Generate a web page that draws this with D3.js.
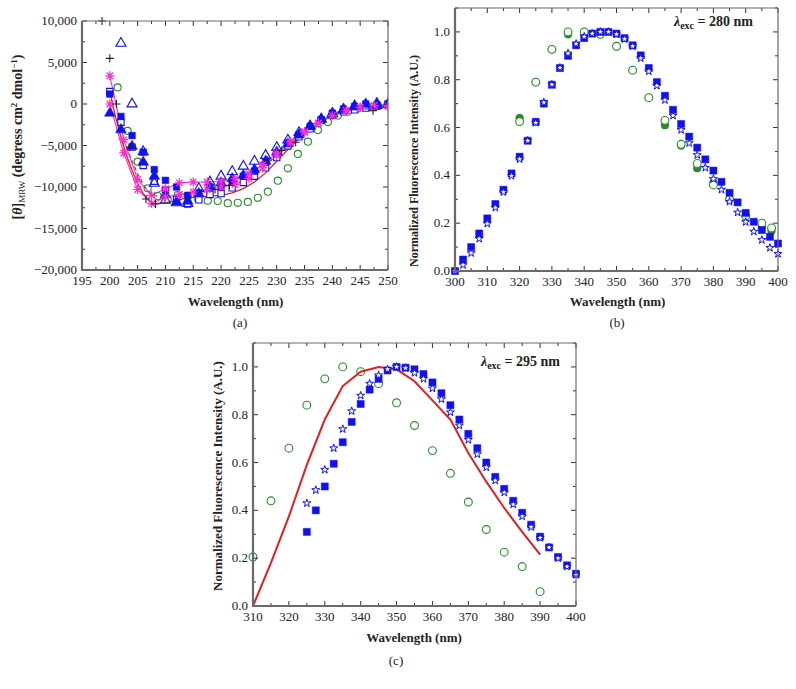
<!DOCTYPE html>
<html><head><meta charset="utf-8">
<script src="https://cdn.jsdelivr.net/npm/d3@7"></script>
<style>body{margin:0;background:#fff}svg{display:block}</style>
</head><body>
<script>
// ---------- Panel (a) data: CD spectra ----------
const aWl = [200,202,204,206,208,210,212,214,216,218,220,222,224,226,228,230,232,234,236,238,240,242,244,246,248,250];
const aFilledTri = [-1100,-3100,-5100,-7000,-8700,-10900,-11800,-11700,-10800,-10000,-9500,-9000,-8600,-7900,-6900,-5800,-4800,-3700,-2700,-1800,-1100,-600,-200,0,100,0];
const aOpenTriWl = [202,204,206,208,210,212,214,216,218,220,222,224,226,228,230,232,234,236,238,240,242,244,246,248,250];
const aOpenTri = [7300,0,-5750,-9550,-11600,-11900,-12000,-10200,-9400,-8700,-8150,-7500,-6900,-6200,-5250,-4350,-3450,-2650,-1850,-1200,-750,-350,-250,-200,-50];
const aFilledSq = [1200,-1500,-3800,-5800,-7900,-9200,-10000,-11000,-10700,-10000,-9900,-9300,-8700,-8100,-7000,-5900,-4700,-3700,-2700,-1900,-1100,-600,-300,0,-100,0];
const aOpenSq = [1500,-2200,-5200,-7400,-9300,-10400,-11500,-12050,-11550,-10900,-10800,-10100,-9450,-8700,-7700,-6450,-5050,-3950,-3000,-1950,-1350,-950,-700,-500,-250,-50];
const aCircWl = [201.4,203.2,205,206.8,208.6,210.4,212.2,214,215.8,217.6,219.4,221.2,223,224.8,226.6,228.4,230.2,232,233.8,235.6,237.4,239.2,241,242.8,244.6,246.4,248.2,250];
const aCirc = [2000,-3250,-6950,-10150,-11100,-11500,-10950,-11200,-11400,-11650,-11700,-11950,-11900,-11800,-11300,-10570,-9240,-7750,-6020,-4540,-3130,-2170,-1400,-930,-550,-350,-250,-150];
const aStarWl = [200,202.5,205,207.5,210,212.5,215,217.5,220,222.5,225,227.5,230,232.5,235,237.5,240,242.5,245,247.5,250];
const aMagA = [3400,-4300,-9100,-11000,-10200,-9500,-9400,-9400,-9300,-9000,-8400,-7300,-5900,-4500,-3300,-2300,-1400,-800,-400,-200,-200];
const aMagB = [0,-5900,-10300,-12000,-11200,-10900,-10600,-10300,-10000,-9700,-9000,-7700,-6200,-4700,-3400,-2300,-1400,-800,-400,-200,-300];
const aRedWl = [200,201,202,203,204,205,206,207,208,210,212,214,216,218,220,222,224,226,228,230,232,234,236,238,240,242,244,246,248,250];
const aRed = [1500,-1500,-4000,-6200,-8000,-9600,-10800,-11600,-12000,-11900,-11600,-11300,-11200,-11100,-11000,-10700,-10200,-9400,-8300,-6900,-5500,-4200,-3000,-2000,-1300,-800,-500,-300,-200,-100];
const aRedDashWl = [203,204,205,206,207,208,209];
const aRedDash = [-5200,-6900,-8400,-9700,-10600,-11000,-11200];
const aPlusWl = [198.6,200,201.2,203.6,206.5,208.2,218.9,221.5,228.4,230.9,233.4,247.3];
const aPlus = [10000,5500,0,-5200,-11450,-12050,-10300,-9800,-6750,-5600,-4600,-800];
const aXTicks = [195,200,205,210,215,220,225,230,235,240,245,250];
const aYTicks = [-20000,-15000,-10000,-5000,0,5000,10000];

// ---------- Panel (b) data: fluorescence, excitation 280 nm ----------
const bWl = [300,302.5,305,307.5,310,312.5,315,317.5,320,322.5,325,327.5,330,332.5,335,337.5,340,342.5,345,347.5,350,352.5,355,357.5,360,362.5,365,367.5,370,372.5,375,377.5,380,382.5,385,387.5,390,392.5,395,397.5,400];
const bSquares = [0,0.048,0.10,0.157,0.22,0.28,0.34,0.408,0.478,0.545,0.624,0.70,0.779,0.849,0.90,0.944,0.974,0.993,1.0,1.0,0.993,0.974,0.944,0.902,0.849,0.79,0.733,0.674,0.615,0.562,0.516,0.467,0.42,0.373,0.327,0.287,0.243,0.206,0.171,0.143,0.115];
const bStars = [0,0.025,0.075,0.135,0.198,0.265,0.33,0.398,0.468,0.545,0.62,0.705,0.78,0.85,0.91,0.95,0.98,0.993,1.0,1.0,0.99,0.97,0.94,0.89,0.835,0.775,0.715,0.65,0.59,0.535,0.485,0.432,0.385,0.34,0.29,0.245,0.205,0.165,0.13,0.097,0.072];
const bCircWl = [320,325,330,335,340,345,350,355,360,365,370,375,380,385,390,395,398];
const bOpenCirc = [0.625,0.79,0.927,1.0,1.0,0.99,0.94,0.84,0.725,0.63,0.53,0.45,0.36,0.30,0.23,0.20,0.18];
const bFillCirc = [0.64,0.79,0.927,0.99,1.0,0.99,0.94,0.84,0.725,0.61,0.525,0.43,0.37,0.30,0.23,0.185,0.168];
const bXTicks = [300,310,320,330,340,350,360,370,380,390,400];
const bYTicks = [0,0.2,0.4,0.6,0.8,1.0];

// ---------- Panel (c) data: fluorescence, excitation 295 nm ----------
const cWl = [325,327.5,330,332.5,335,337.5,340,342.5,345,347.5,350,352.5,355,357.5,360,362.5,365,367.5,370,372.5,375,377.5,380,382.5,385,387.5,390,392.5,395,397.5,400];
const cSquares = [0.31,0.40,0.50,0.595,0.685,0.77,0.845,0.905,0.95,0.985,1.0,0.997,0.99,0.97,0.935,0.89,0.84,0.78,0.72,0.66,0.60,0.54,0.49,0.44,0.39,0.34,0.29,0.245,0.205,0.17,0.135];
const cStars = [0.43,0.485,0.57,0.66,0.74,0.815,0.88,0.93,0.965,0.99,1.0,0.995,0.975,0.95,0.91,0.865,0.81,0.755,0.695,0.635,0.58,0.525,0.475,0.425,0.375,0.33,0.285,0.245,0.20,0.165,0.13];
const cCircWl = [310,315,320,325,330,335,340,345,350,355,360,365,370,375,380,385,390];
const cCirc = [0.205,0.44,0.66,0.84,0.95,1.0,0.98,0.93,0.85,0.755,0.65,0.555,0.435,0.32,0.225,0.165,0.06];
const cRed = [0,0.18,0.375,0.59,0.78,0.92,0.98,1.0,0.99,0.94,0.86,0.78,0.64,0.52,0.41,0.31,0.215];
const cXTicks = [310,320,330,340,350,360,370,380,390,400];
const cYTicks = [0,0.2,0.4,0.6,0.8,1.0];

const BLUE = "#1010f0", GREEN = "#2a8a2a", MAG = "#ff2ad4", RED = "#e02020", FRAME = "#6a6a6a";
const FONT = "'Liberation Serif', 'DejaVu Serif', serif";

const svg = d3.select("body").append("svg").attr("width",796).attr("height",689)
  .attr("font-family",FONT).style("font-family",FONT);

function frame(g, x, y, xMajor, xMinorStep, yMajor, yMinorStep, xFmt, yFmt, fs, yLabelGap){
  const [x0,x1] = x.range(), [y0,y1] = y.range();
  const xd = x.domain(), yd = y.domain();
  const xMinor = d3.range(xd[0], xd[1]+1e-9, xMinorStep);
  const yMinor = d3.range(yd[0], yd[1]+1e-9, yMinorStep);
  const tk = g.append("g").attr("stroke","#333").attr("stroke-width",1);
  xMinor.forEach(v=>{
    const big = xMajor.some(m=>Math.abs(m-v)<1e-6);
    const L = big?5:3;
    tk.append("line").attr("x1",x(v)).attr("x2",x(v)).attr("y1",y0).attr("y2",y0-L);
    tk.append("line").attr("x1",x(v)).attr("x2",x(v)).attr("y1",y1).attr("y2",y1+L);
  });
  yMinor.forEach(v=>{
    const big = yMajor.some(m=>Math.abs(m-v)<1e-6);
    const L = big?5:3;
    tk.append("line").attr("y1",y(v)).attr("y2",y(v)).attr("x1",x0).attr("x2",x0+L);
    tk.append("line").attr("y1",y(v)).attr("y2",y(v)).attr("x1",x1).attr("x2",x1-L);
  });
  g.append("line").attr("x1",x0).attr("x2",x1).attr("y1",y1).attr("y2",y1).attr("stroke",FRAME).attr("stroke-width",1.2);
  g.append("line").attr("x1",x1).attr("x2",x1).attr("y1",y0).attr("y2",y1).attr("stroke",FRAME).attr("stroke-width",1.2);
  g.append("line").attr("x1",x0-1).attr("x2",x1).attr("y1",y0).attr("y2",y0).attr("stroke",FRAME).attr("stroke-width",2.2);
  g.append("line").attr("x1",x0).attr("x2",x0).attr("y1",y0+1).attr("y2",y1).attr("stroke",FRAME).attr("stroke-width",2.2);
  xMajor.forEach(v=>g.append("text").attr("x",x(v)).attr("y",y0+15).attr("text-anchor","middle").attr("font-size",fs).attr("fill","#222").text(xFmt(v)));
  yMajor.forEach(v=>g.append("text").attr("x",x0-yLabelGap).attr("y",y(v)+4).attr("text-anchor","end").attr("font-size",fs).attr("fill","#222").text(yFmt(v)));
}

function plus(g, x, y, xs, ys, color, s){
  xs.forEach((w,i)=>{
    const cx=x(w), cy=y(ys[i]);
    g.append("path").attr("d",`M${cx-s},${cy}H${cx+s}M${cx},${cy-s}V${cy+s}`).attr("stroke",color).attr("stroke-width",1.1).attr("fill","none");
  });
}
function asterisk(g, x, y, xs, ys, color, s){
  xs.forEach((w,i)=>{
    const cx=x(w), cy=y(ys[i]); const d=s*0.72;
    g.append("path").attr("d",`M${cx-s},${cy}H${cx+s}M${cx},${cy-s}V${cy+s}M${cx-d},${cy-d}L${cx+d},${cy+d}M${cx-d},${cy+d}L${cx+d},${cy-d}`).attr("stroke",color).attr("stroke-width",1.2).attr("fill","none");
  });
}
function sym(g, x, y, xs, ys, type, size, fill, stroke, sw){
  const p = d3.symbol().type(type).size(size)();
  g.selectAll(null).data(xs).enter().append("path").attr("d",p)
    .attr("transform",(w,i)=>`translate(${x(w)},${y(ys[i])})`)
    .attr("fill",fill).attr("stroke",stroke).attr("stroke-width",sw);
}
function line(g, x, y, xs, ys, color, w, dash){
  const l = d3.line().x((d,i)=>x(xs[i])).y(d=>y(d));
  const p = g.append("path").attr("d",l(ys)).attr("fill","none").attr("stroke",color).attr("stroke-width",w);
  if(dash) p.attr("stroke-dasharray",dash);
}
const fmtA = d=> d===0?"0":d3.format(",")(d).replace("-","\u2212");
const fmt1 = d3.format(".1f");

// ============ Panel (a) ============
{
  const x = d3.scaleLinear().domain([195,250]).range([82,388]);
  const y = d3.scaleLinear().domain([-20000,10000]).range([270,21]);
  const g = svg.append("g");
  g.append("clipPath").attr("id","ca").append("rect").attr("x",82).attr("y",14).attr("width",306).attr("height",256);
  const d = g.append("g").attr("clip-path","url(#ca)");
  line(d,x,y,aRedWl,aRed,RED,1.3);
  line(d,x,y,aRedDashWl,aRedDash,RED,1.2,"4,3");
  line(d,x,y,aStarWl,aMagA,MAG,1.1);
  line(d,x,y,aStarWl,aMagB,MAG,1.1);
  sym(d,x,y,aCircWl,aCirc,d3.symbolCircle,40,"none",GREEN,1.1);
  sym(d,x,y,aWl,aOpenSq,d3.symbolSquare,40,"#fff",BLUE,1.1);
  sym(d,x,y,aWl,aFilledSq,d3.symbolSquare,44,BLUE,BLUE,0.5);
  sym(d,x,y,aOpenTriWl,aOpenTri,d3.symbolTriangle,44,"none",BLUE,1.1);
  sym(d,x,y,aWl,aFilledTri,d3.symbolTriangle,50,BLUE,BLUE,0.5);
  asterisk(d,x,y,aStarWl,aMagA,MAG,4.5);
  asterisk(d,x,y,aStarWl,aMagB,MAG,4.5);
  plus(d,x,y,aPlusWl,aPlus,"#222",4);
  frame(g,x,y,aXTicks,2.5,aYTicks,2500,d=>d,fmtA,13,5);
  g.append("text").attr("x",235.5).attr("y",306).attr("text-anchor","middle").attr("font-size",13).attr("font-weight","bold").attr("fill","#222").text("Wavelength (nm)");
  const t = g.append("text").attr("transform","translate(22,137) rotate(-90)").attr("text-anchor","middle").attr("font-size",14).attr("font-weight","bold").attr("fill","#222");
  t.append("tspan").text("[");
  t.append("tspan").attr("font-style","italic").text("\u03b8");
  t.append("tspan").text("]");
  t.append("tspan").attr("font-size",9).attr("font-weight","normal").attr("dy",3).text("MRW");
  t.append("tspan").attr("dy",-3).text(" (degress cm");
  t.append("tspan").attr("font-size",9).attr("dy",-5).text("2");
  t.append("tspan").attr("dy",5).text(" dmol");
  t.append("tspan").attr("font-size",9).attr("dy",-5).text("\u22121");
  t.append("tspan").attr("dy",5).text(")");
  g.append("text").attr("x",240).attr("y",327).attr("text-anchor","middle").attr("font-size",13).attr("fill","#222").text("(a)");
}

// ============ Panel (b) ============
{
  const x = d3.scaleLinear().domain([300,400]).range([455,778]);
  const y = d3.scaleLinear().domain([0,1.1]).range([271,8]);
  const g = svg.append("g");
  sym(g,x,y,bCircWl,bFillCirc,d3.symbolCircle,48,GREEN,GREEN,0.5);
  sym(g,x,y,bCircWl,bOpenCirc,d3.symbolCircle,48,"#fff",GREEN,1.1);
  sym(g,x,y,bWl,bSquares,d3.symbolSquare,50,BLUE,BLUE,0.5);
  sym(g,x,y,bWl,bStars,d3.symbolStar,20,"#fff",BLUE,1);
  frame(g,x,y,bXTicks,5,bYTicks,0.1,d=>d,fmt1,13,5);
  g.append("text").attr("x",617.5).attr("y",306).attr("text-anchor","middle").attr("font-size",13).attr("font-weight","bold").attr("fill","#222").text("Wavelength (nm)");
  g.append("text").attr("transform","translate(418,161) rotate(-90)").attr("text-anchor","middle").attr("font-size",12).attr("font-weight","bold").attr("fill","#222").text("Normalized Fluorescence Intensity (A.U.)");
  const l = g.append("text").attr("x",753).attr("y",26).attr("text-anchor","end").attr("font-size",14).attr("font-weight","bold").attr("fill","#222");
  l.append("tspan").attr("font-style","italic").text("\u03bb");
  l.append("tspan").attr("font-size",10).attr("dy",3).text("exc");
  l.append("tspan").attr("dy",-3).text(" = 280 nm");
  g.append("text").attr("x",617).attr("y",327).attr("text-anchor","middle").attr("font-size",13).attr("fill","#222").text("(b)");
}

// ============ Panel (c) ============
{
  const x = d3.scaleLinear().domain([310,400]).range([253,576]);
  const y = d3.scaleLinear().domain([0,1.1]).range([606,343]);
  const g = svg.append("g");
  sym(g,x,y,cCircWl,cCirc,d3.symbolCircle,48,"#fff",GREEN,1.1);
  line(g,x,y,cCircWl.slice(0,cRed.length),cRed,RED,2);
  sym(g,x,y,cWl,cSquares,d3.symbolSquare,50,BLUE,BLUE,0.5);
  sym(g,x,y,cWl,cStars,d3.symbolStar,20,"#fff",BLUE,1);
  frame(g,x,y,cXTicks,5,cYTicks,0.1,d=>d,fmt1,13,5);
  g.append("text").attr("x",414).attr("y",642).attr("text-anchor","middle").attr("font-size",13).attr("font-weight","bold").attr("fill","#222").text("Wavelength (nm)");
  g.append("text").attr("transform","translate(222,476) rotate(-90)").attr("text-anchor","middle").attr("font-size",13).attr("font-weight","bold").attr("fill","#222").text("Normalized Fluorescence Intensity (A.U.)");
  const l = g.append("text").attr("x",560).attr("y",366).attr("text-anchor","end").attr("font-size",14).attr("font-weight","bold").attr("fill","#222");
  l.append("tspan").attr("font-style","italic").text("\u03bb");
  l.append("tspan").attr("font-size",10).attr("dy",3).text("exc");
  l.append("tspan").attr("dy",-3).text(" = 295 nm");
  g.append("text").attr("x",396).attr("y",665).attr("text-anchor","middle").attr("font-size",13).attr("fill","#222").text("(c)");
}
</script>
</body></html>
